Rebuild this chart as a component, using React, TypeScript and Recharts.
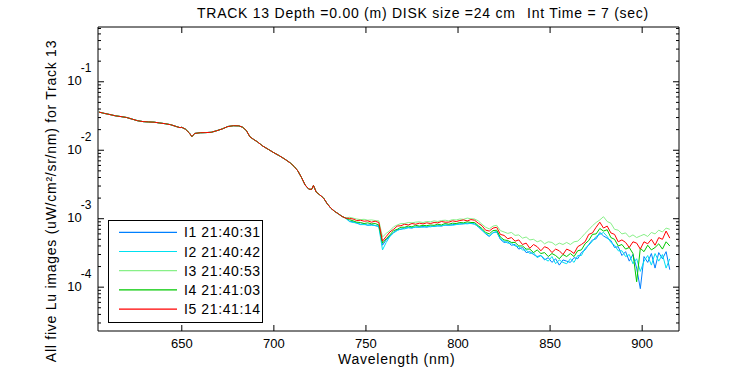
import React from 'react';
import { LineChart, Line, XAxis, YAxis, Legend } from 'recharts';

const FONT = '"Liberation Sans", Arial, Helvetica, sans-serif';

// Values are read in units of 1e-4 uW/cm^2/sr/nm
const UNIT = 1e-4;

// Smooth part of the spectrum (all five images coincide)
const smoothWavelengths = [
  605, 608, 611, 614, 617, 620, 623, 626, 629, 632,
  635, 638, 641, 644, 647, 649, 650, 652, 654, 655.5,
  657, 660, 663, 666, 669, 672, 675, 678, 681, 683,
  685, 687, 689, 691, 694, 697, 700, 703, 706, 709,
  711, 713, 715, 717, 719, 720.5, 721.5, 723, 725, 727,
  729, 731, 733, 735, 737, 739,
];
const smoothLu = [
  361, 345, 332, 318, 310, 301, 285, 270, 262, 259,
  257, 250, 244, 236, 222, 214, 216, 203, 180, 158,
  176, 180, 181, 183, 193, 205, 222, 228, 227, 217,
  195, 157, 144, 133, 115, 103, 92, 83, 74, 65,
  58, 50, 40, 31, 27, 26.8, 30.6, 24.5, 22.2, 20,
  16.5, 14.2, 12.8, 11.8, 10.8, 10.2,
];

// Noisy part of the spectrum, one array per image
const noisyWavelengths = [
  741, 743, 745, 747, 749, 751, 753, 755, 757, 759,
  761, 763, 765, 767, 769, 771, 773, 775, 777, 779,
  781, 783, 785, 787, 789, 791, 793, 795, 797, 799,
  801, 803, 805, 807, 809, 811, 813, 815, 817, 819,
  821, 823, 825, 827, 829, 831, 833, 835, 837, 839,
  841, 843, 845, 847, 849, 851, 853, 855, 857, 859,
  861, 863, 865, 867, 869, 871, 873, 875, 877, 879,
  881, 883, 885, 887, 889, 891, 893, 895, 897, 899,
  901, 903, 905, 907, 909, 911, 913, 915,
];
const i1Lu = [
  9.2, 9.0, 8.6, 8.3, 8.4, 8.0, 8.2, 7.9, 7.8, 4.1,
  4.9, 5.6, 6.3, 6.9, 7.0, 7.3, 7.4, 7.3, 7.6, 7.5,
  7.7, 7.5, 7.8, 7.7, 7.9, 7.8, 8.1, 8.0, 8.2, 8.3,
  8.4, 8.4, 8.6, 8.5, 8.4, 7.6, 6.8, 6.0, 5.5, 6.3,
  6.4, 5.0, 4.5, 4.6, 4.1, 4.2, 3.6, 3.8, 3.2, 3.3,
  3.0, 2.8, 2.9, 2.5, 2.7, 2.3, 2.6, 2.1, 2.5, 2.4,
  2.3, 2.7, 2.6, 3.2, 3.5, 4.2, 4.9, 5.1, 6.3, 5.6,
  5.2, 4.8, 3.8, 3.9, 2.9, 3.3, 2.4, 3.0, 1.9, 0.95,
  2.8, 2.3, 3.1, 1.9, 3.2, 2.6, 3.3, 1.8,
];
const i2Lu = [
  9.1, 8.8, 8.7, 8.2, 8.2, 8.1, 8.0, 8.0, 7.6, 3.5,
  4.5, 5.5, 6.2, 6.7, 7.1, 7.1, 7.4, 7.4, 7.5, 7.6,
  7.5, 7.7, 7.6, 7.8, 7.8, 7.9, 8.0, 8.1, 8.0, 8.2,
  8.3, 8.5, 8.4, 8.6, 8.3, 7.7, 6.8, 6.1, 5.6, 6.2,
  6.5, 5.1, 4.7, 4.4, 4.4, 4.0, 3.9, 3.5, 3.5, 3.1,
  3.2, 2.7, 2.9, 2.6, 2.4, 2.8, 2.2, 2.5, 2.3, 2.2,
  2.6, 2.3, 2.9, 2.9, 3.7, 4.1, 4.7, 5.5, 5.9, 6.3,
  5.5, 4.5, 4.1, 3.4, 3.4, 2.8, 3.0, 2.2, 2.6, 1.7,
  2.4, 2.9, 2.1, 3.1, 2.4, 3.0, 1.9, 2.6,
];
const i3Lu = [
  10.5, 10.2, 9.9, 9.7, 9.8, 9.5, 9.6, 9.4, 9.3, 5.4,
  6.1, 6.7, 7.6, 8.1, 8.5, 8.5, 8.8, 8.7, 8.9, 9.0,
  8.8, 9.1, 9.0, 9.3, 9.1, 9.4, 9.5, 9.3, 9.7, 9.6,
  9.9, 9.8, 10.2, 10.0, 9.9, 9.3, 8.3, 7.5, 7.1, 7.8,
  8.0, 6.7, 6.4, 6.1, 6.3, 5.7, 5.8, 5.2, 5.4, 4.9,
  5.0, 4.6, 4.8, 4.3, 4.6, 4.5, 4.1, 4.4, 4.2, 4.5,
  4.2, 4.6, 4.7, 5.3, 6.1, 6.9, 7.9, 8.8, 9.6, 10.7,
  9.1, 8.6, 7.0, 6.8, 6.0, 6.2, 5.4, 5.8, 5.3, 5.6,
  5.9, 5.5, 6.3, 6.0, 6.8, 6.4, 7.3, 7.0,
];
const i4Lu = [
  9.7, 9.3, 8.9, 8.8, 8.5, 8.7, 8.4, 8.5, 8.1, 4.4,
  5.1, 5.8, 6.7, 7.0, 7.5, 7.5, 7.8, 7.6, 8.0, 7.8,
  8.0, 7.9, 8.1, 8.0, 8.3, 8.1, 8.5, 8.3, 8.6, 8.5,
  8.8, 8.7, 9.0, 8.8, 8.8, 7.9, 7.2, 6.3, 6.0, 6.7,
  6.8, 5.4, 4.9, 4.8, 4.5, 4.5, 4.0, 4.0, 3.6, 3.6,
  3.2, 3.5, 3.1, 3.2, 2.8, 3.1, 2.9, 2.6, 3.0, 2.8,
  3.1, 2.8, 3.4, 3.5, 4.3, 4.8, 5.9, 6.0, 7.2, 6.6,
  6.9, 5.3, 5.0, 4.0, 4.2, 3.6, 3.8, 3.1, 1.2, 3.7,
  3.3, 4.1, 3.5, 3.8, 4.3, 3.6, 4.6, 4.0,
];
const i5Lu = [
  10.1, 9.9, 9.4, 9.5, 9.2, 9.3, 8.9, 9.2, 8.8, 4.7,
  5.5, 6.4, 7.0, 7.8, 7.9, 8.3, 8.1, 8.5, 8.3, 8.6,
  8.4, 8.7, 8.5, 8.8, 8.7, 9.1, 8.9, 8.9, 9.3, 9.1,
  9.4, 9.6, 9.3, 9.7, 9.5, 8.6, 7.9, 6.8, 6.6, 7.3,
  7.5, 5.9, 5.7, 5.1, 5.3, 4.7, 4.9, 4.2, 4.4, 3.7,
  4.2, 3.9, 3.4, 3.9, 3.7, 3.2, 3.6, 3.4, 3.0, 3.6,
  3.4, 3.1, 3.9, 4.2, 4.6, 5.9, 6.2, 7.5, 8.9, 7.3,
  7.8, 6.2, 5.9, 4.6, 4.9, 4.5, 3.8, 4.6, 4.4, 3.6,
  4.6, 4.3, 5.0, 4.1, 5.3, 5.0, 6.6, 5.2,
];

const seriesKeys = ['i1', 'i2', 'i3', 'i4', 'i5'];
const seriesNames = ['I1 21:40:31', 'I2 21:40:42', 'I3 21:40:53', 'I4 21:41:03', 'I5 21:41:14'];
const seriesColors = ['#0080ff', '#00e0f0', '#88f088', '#00c800', '#ff0000'];
const noisySeries = [i1Lu, i2Lu, i3Lu, i4Lu, i5Lu];

const xTicks = [650, 700, 750, 800, 850, 900];
const xDomain = [604.5, 920];
const yDomain = [2.29e-5, 0.631];
const yMajorTicks = [1e-4, 1e-3, 1e-2, 1e-1];
const yMinorMultipliers = [2, 3, 4, 5, 6, 7, 8, 9];
const yDecades = [1e-5, 1e-4, 1e-3, 1e-2, 1e-1];

const yTicks: number[] = [...yMajorTicks];
yDecades.forEach((d) => yMinorMultipliers.forEach((m) => {
  const v = d * m;
  if (v >= yDomain[0] && v <= yDomain[1]) yTicks.push(v);
}));
yTicks.sort((a, b) => a - b);

const titleLeft = 'TRACK 13 Depth =0.00 (m) DISK size =24 cm';
const titleRight = 'Int Time = 7 (sec)';
const xLabel = 'Wavelength (nm)';
const yLabel = 'All five Lu images (uW/cm\u00B2/sr/nm) for Track 13';

const table: any[] = [];
smoothWavelengths.forEach((wl, i) => {
  const row: any = { wl };
  seriesKeys.forEach((k) => { row[k] = smoothLu[i] * UNIT; });
  table.push(row);
});
noisyWavelengths.forEach((wl, i) => {
  const row: any = { wl };
  seriesKeys.forEach((k, s) => { row[k] = noisySeries[s][i] * UNIT; });
  table.push(row);
});

const isMajor = (v: number) => {
  const lg = Math.log10(v);
  return Math.abs(lg - Math.round(lg)) < 1e-6;
};

const BottomTick = (p: any) => {
  const x = p.x;
  const y = p.y;
  return (
    <g>
      <line x1={x} x2={x} y1={y} y2={y - 6} stroke="#000" strokeWidth={1} />
      <text x={x} y={y + 16.5} textAnchor="middle" fontSize={13} fontFamily={FONT} fill="#000">
        {p.payload.value}
      </text>
    </g>
  );
};

const TopTick = (p: any) => (
  <line x1={p.x} x2={p.x} y1={p.y} y2={p.y + 6} stroke="#000" strokeWidth={1} />
);

const LeftTick = (p: any) => {
  const v = p.payload.value;
  const major = isMajor(v);
  const x = p.x;
  const y = p.y;
  return (
    <g>
      <line x1={x} x2={x + (major ? 6 : 3)} y1={y} y2={y} stroke="#000" strokeWidth={1} />
      {major && (
        <text fontFamily={FONT} fill="#000">
          <tspan x={x - 30.7} y={y + 3.5} fontSize={13}>10</tspan>
          <tspan x={x - 17.3} y={y - 9.5} fontSize={12}>{String(Math.round(Math.log10(v)))}</tspan>
        </text>
      )}
    </g>
  );
};

const RightTick = (p: any) => {
  const major = isMajor(p.payload.value);
  return <line x1={p.x} x2={p.x - (major ? 6 : 3)} y1={p.y} y2={p.y} stroke="#000" strokeWidth={1} />;
};

const LegendBox = (props: any) => {
  const payload = props.payload || [];
  const rows = [12.3, 31.5, 50.7, 69.9, 89.1];
  return (
    <svg width={155} height={103} style={{ display: 'block' }}>
      <rect x={0.5} y={0.5} width={154} height={102} fill="#fff" stroke="#000" strokeWidth={1} />
      {payload.map((e: any, i: number) => (
        <g key={i}>
          <line x1={11} x2={69} y1={rows[i]} y2={rows[i]} stroke={e.color} strokeWidth={1.2} />
          <text x={76} y={rows[i] + 5} fontSize={14} letterSpacing={0.6} fontFamily={FONT} fill="#000">
            {e.value}
          </text>
        </g>
      ))}
    </svg>
  );
};

export default function App() {
  return (
    <div style={{ position: 'absolute', left: 0, top: 0, width: 750, height: 375, background: '#fff' }}>
      <LineChart width={750} height={375} data={table} margin={{ top: 0, right: 0, bottom: 0, left: 0 }}>
        <XAxis
          dataKey="wl"
          type="number"
          domain={xDomain}
          allowDataOverflow
          ticks={xTicks}
          interval={0}
          height={44}
          tickSize={0}
          tickMargin={0}
          tickLine={false}
          axisLine={{ stroke: '#000' }}
          tick={BottomTick}
        />
        <XAxis
          xAxisId="top"
          orientation="top"
          dataKey="wl"
          type="number"
          domain={xDomain}
          allowDataOverflow
          ticks={xTicks}
          interval={0}
          height={27}
          tickSize={0}
          tickMargin={0}
          tickLine={false}
          axisLine={{ stroke: '#000' }}
          tick={TopTick}
        />
        <YAxis
          type="number"
          scale="log"
          domain={yDomain}
          allowDataOverflow
          ticks={yTicks}
          interval={0}
          width={98}
          tickSize={0}
          tickMargin={0}
          tickLine={false}
          axisLine={{ stroke: '#000' }}
          tick={LeftTick}
        />
        <YAxis
          yAxisId="right"
          orientation="right"
          type="number"
          scale="log"
          domain={yDomain}
          allowDataOverflow
          ticks={yTicks}
          interval={0}
          width={71}
          tickSize={0}
          tickMargin={0}
          tickLine={false}
          axisLine={{ stroke: '#000' }}
          tick={RightTick}
        />
        {seriesKeys.map((k, i) => (
          <Line
            key={k}
            dataKey={k}
            name={seriesNames[i]}
            stroke={seriesColors[i]}
            strokeWidth={1}
            dot={false}
            activeDot={false}
            type="linear"
            isAnimationActive={false}
          />
        ))}
        <Legend
          layout="vertical"
          align="center"
          verticalAlign="middle"
          wrapperStyle={{ left: 108, top: 220, width: 155, height: 103 }}
          content={LegendBox}
        />
      </LineChart>
      <svg width={750} height={375} style={{ position: 'absolute', left: 0, top: 0, pointerEvents: 'none' }}>
        <text x={197} y={18} fontSize={14} letterSpacing={0.75} fontFamily={FONT} fill="#000">
          {titleLeft}
        </text>
        <text x={527} y={18} fontSize={14} letterSpacing={0.75} fontFamily={FONT} fill="#000">
          {titleRight}
        </text>
        <text x={338} y={364} fontSize={14} letterSpacing={0.75} fontFamily={FONT} fill="#000">
          {xLabel}
        </text>
        <text
          transform="translate(56,201) rotate(-90)"
          textAnchor="middle"
          fontSize={14}
          letterSpacing={0.75}
          fontFamily={FONT}
          fill="#000"
        >
          {yLabel}
        </text>
      </svg>
    </div>
  );
}
